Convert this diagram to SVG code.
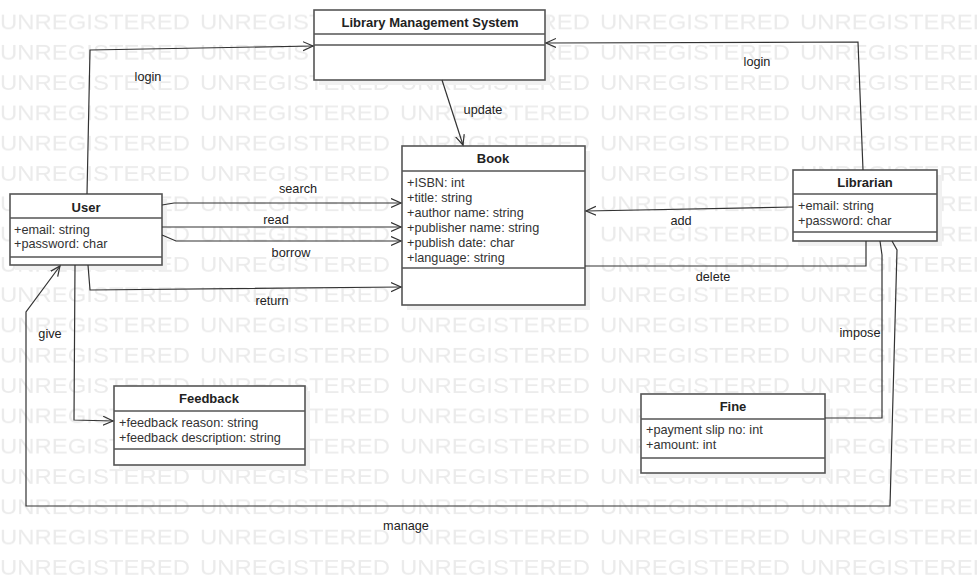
<svg xmlns="http://www.w3.org/2000/svg" width="977" height="578" viewBox="0 0 977 578">
<style>
text{font-family:"Liberation Sans",Arial,sans-serif;}
.wm{font-size:21px;fill:#ebebeb;}
.box{fill:#ffffff;stroke:#555555;stroke-width:1.6;}
.shadow{fill:#f1f1f1;stroke:none;}
.div{stroke:#555555;stroke-width:1.6;}
.title{font-size:13px;font-weight:bold;fill:#222;text-anchor:middle;}
.attr{font-size:12.7px;fill:#333;}
.lbl{font-size:12.7px;fill:#222;text-anchor:middle;}
.conn{fill:none;stroke:#333;stroke-width:1.2;}
.arr{marker-end:url(#open);}
</style>
<defs>
<marker id="open" markerUnits="userSpaceOnUse" markerWidth="12" markerHeight="12" refX="10" refY="5" orient="auto">
<path d="M0,0.5 L10,5 L0,9.5" fill="none" stroke="#333" stroke-width="1.2"/>
</marker>
<pattern id="wmp" patternUnits="userSpaceOnUse" x="0" y="0" width="200" height="30.3">
<text class="wm" x="0" y="29" textLength="190" lengthAdjust="spacingAndGlyphs">UNREGISTERED</text>
</pattern>
</defs>
<rect x="0" y="0" width="977" height="578" fill="#ffffff"/>
<rect x="0" y="0" width="977" height="578" fill="url(#wmp)"/>

<g id="lms">
<rect class="shadow" x="319" y="15" width="231" height="70"/>
<rect class="box" x="314" y="10" width="231" height="70"/>
<line class="div" x1="314" y1="34" x2="545" y2="34"/>
<line class="div" x1="314" y1="45" x2="545" y2="45"/>
<text class="title" x="430" y="26.5">Library Management System</text>
</g>

<g id="book">
<rect class="shadow" x="407" y="151" width="183" height="159"/>
<rect class="box" x="402" y="146" width="183" height="159"/>
<line class="div" x1="402" y1="171" x2="585" y2="171"/>
<line class="div" x1="402" y1="268" x2="585" y2="268"/>
<text class="title" x="493" y="162.5">Book</text>
<text class="attr" x="407" y="186.5">+ISBN: int</text>
<text class="attr" x="407" y="201.5">+title: string</text>
<text class="attr" x="407" y="216.5">+author name: string</text>
<text class="attr" x="407" y="231.5">+publisher name: string</text>
<text class="attr" x="407" y="246.5">+publish date: char</text>
<text class="attr" x="407" y="261.5">+language: string</text>
</g>

<g id="user">
<rect class="shadow" x="15" y="199" width="152" height="71"/>
<rect class="box" x="10" y="194" width="152" height="71"/>
<line class="div" x1="10" y1="218" x2="162" y2="218"/>
<line class="div" x1="10" y1="257" x2="162" y2="257"/>
<text class="title" x="86" y="211.5">User</text>
<text class="attr" x="14" y="233.5">+email: string</text>
<text class="attr" x="14" y="248">+password: char</text>
</g>

<g id="librarian">
<rect class="shadow" x="798" y="175" width="144" height="71"/>
<rect class="box" x="793" y="170" width="144" height="71"/>
<line class="div" x1="793" y1="194" x2="937" y2="194"/>
<line class="div" x1="793" y1="232" x2="937" y2="232"/>
<text class="title" x="865" y="186.5">Librarian</text>
<text class="attr" x="798" y="209.5">+email: string</text>
<text class="attr" x="798" y="224.5">+password: char</text>
</g>

<g id="feedback">
<rect class="shadow" x="119" y="391" width="191" height="79"/>
<rect class="box" x="114" y="386" width="191" height="79"/>
<line class="div" x1="114" y1="411" x2="305" y2="411"/>
<line class="div" x1="114" y1="449" x2="305" y2="449"/>
<text class="title" x="209" y="402.5">Feedback</text>
<text class="attr" x="119" y="426.5">+feedback reason: string</text>
<text class="attr" x="119" y="441.5">+feedback description: string</text>
</g>

<g id="fine">
<rect class="shadow" x="646" y="399" width="184" height="79"/>
<rect class="box" x="641" y="394" width="184" height="79"/>
<line class="div" x1="641" y1="419" x2="825" y2="419"/>
<line class="div" x1="641" y1="458" x2="825" y2="458"/>
<text class="title" x="733" y="410.5">Fine</text>
<text class="attr" x="646" y="434">+payment slip no: int</text>
<text class="attr" x="646" y="448.5">+amount: int</text>
</g>

<g id="connectors">
<path class="conn arr" d="M87,194 L90,50 L313,46"/>
<path class="conn arr" d="M863,170 L858,42 L546,43"/>
<path class="conn arr" d="M442,80 L463,145"/>
<path class="conn arr" d="M162,205 L174,203 L401,203"/>
<path class="conn arr" d="M162,227 L401,227"/>
<path class="conn arr" d="M162,235 L176,241 L401,241"/>
<path class="conn arr" d="M88,265 L90,290 L401,287"/>
<path class="conn arr" d="M75,265 L74,420 L113,421"/>
<path class="conn arr" d="M793,207 L586,211"/>
<path class="conn" d="M866,241 L866,266 L585,266"/>
<path class="conn" d="M880,241 L882,255 L882,418 L825,418"/>
<path class="conn arr" d="M892,241 L897,250 L890,506 L26,506 L26,312 L60,266"/>
<text class="lbl" x="148" y="80.5">login</text>
<text class="lbl" x="757" y="65.5">login</text>
<text class="lbl" x="483" y="113.5">update</text>
<text class="lbl" x="298" y="192.5">search</text>
<text class="lbl" x="276" y="223.5">read</text>
<text class="lbl" x="291" y="256.5">borrow</text>
<text class="lbl" x="272" y="304.5">return</text>
<text class="lbl" x="50" y="337.5">give</text>
<text class="lbl" x="681" y="224.5">add</text>
<text class="lbl" x="713" y="280.5">delete</text>
<text class="lbl" x="860" y="336.5">impose</text>
<text class="lbl" x="406" y="529.5">manage</text>
</g>
</svg>
